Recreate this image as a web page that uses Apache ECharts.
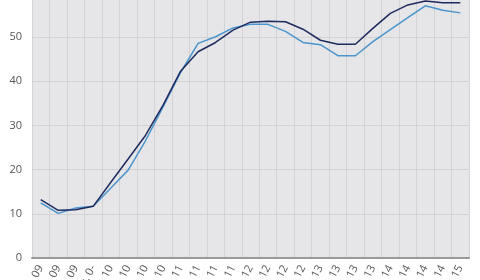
<!DOCTYPE html>
<html><head><meta charset="utf-8">
<script src="https://cdn.jsdelivr.net/npm/echarts@6/dist/echarts.min.js"></script>
<style>html,body{margin:0;padding:0;background:#fff}#c{width:480px;height:280px}</style>
</head><body><div id="c"></div>
<script>
const categories = [
  "mar. 09","jun. 09","sep. 09","des. 0-",
  "mar. 10","jun. 10","sep. 10","des. 10",
  "mar. 11","jun. 11","sep. 11","des. 11",
  "mar. 12","jun. 12","sep. 12","des. 12",
  "mar. 13","jun. 13","sep. 13","des. 13",
  "mar. 14","jun. 14","sep. 14","des. 14",
  "mar. 15"
];
const darkSeries = [13.2,10.8,10.9,11.7,17.1,22.4,27.8,34.6,42.3,46.7,48.8,51.6,53.4,53.6,53.5,51.8,49.3,48.4,48.4,52.0,55.4,57.3,58.2,57.8,57.8];
const lightSeries = [12.5,10.1,11.3,11.7,15.8,19.9,26.6,34.2,42.0,48.6,50.1,52.1,52.9,52.9,51.3,48.8,48.3,45.8,45.8,49.0,51.7,54.4,57.1,56.1,55.5];
const yTicks = [0,10,20,30,40,50,60];

const chart = echarts.init(document.getElementById('c'));
chart.setOption({
  animation: false,
  backgroundColor: '#ffffff',
  grid: {left: 32, right: 11, top: -7, bottom: 22, show: true, backgroundColor: '#e6e6e8', borderWidth: 0, containLabel: false, outerBoundsMode: 'none'},
  xAxis: {
    type: 'category', data: categories, boundaryGap: true,
    axisLine: {show: true, lineStyle: {color: '#9a9a9a', width: 2}},
    axisTick: {show: false},
    axisLabel: {rotate: 62, interval: 0, color: '#555', fontSize: 11, fontFamily: 'Open Sans', margin: 8},
    splitLine: {show: true, interval: 0, lineStyle: {color: '#d3d3d5', width: 1}}
  },
  yAxis: {
    type: 'value', min: yTicks[0], max: yTicks[yTicks.length-1], interval: 10,
    axisLine: {show: false}, axisTick: {show: false},
    axisLabel: {color: '#555', fontSize: 11, fontFamily: 'Open Sans', margin: 10},
    splitLine: {show: true, lineStyle: {color: '#d3d3d5', width: 1}}
  },
  series: [
    {type: 'line', data: lightSeries, symbol: 'none', lineStyle: {color: '#4a95cc', width: 1.5}, z: 2},
    {type: 'line', data: darkSeries, symbol: 'none', lineStyle: {color: '#1f2b5e', width: 1.5}, z: 3}
  ]
});
</script></body></html>
